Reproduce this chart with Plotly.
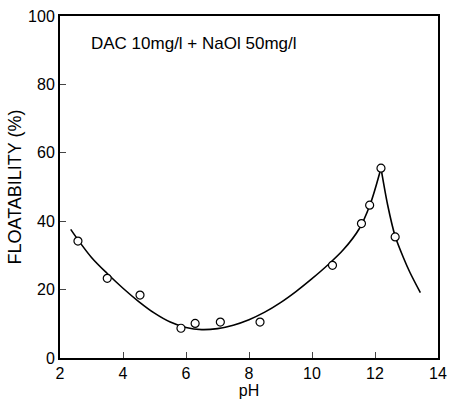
import plotly.graph_objects as go

# measured points
ph_pts = [2.57, 3.50, 4.54, 5.84, 6.29, 7.09, 8.35, 10.65, 11.57, 11.83, 12.19, 12.64]
flt_pts = [34.2, 23.3, 18.4, 8.7, 10.1, 10.5, 10.5, 27.1, 39.3, 44.7, 55.5, 35.4]

# fitted curve (left branch up to the peak, right branch after it)
curve_left_x = [2.34, 2.6, 3.0, 3.5, 4.0, 4.5, 5.0, 5.5, 6.0, 6.5, 7.0, 7.5, 8.0, 8.5, 9.0, 9.5, 10.0, 10.5, 11.0, 11.5, 11.83, 12.19]
curve_left_y = [37.6, 34.2, 29.4, 24.7, 20.4, 16.5, 13.1, 10.5, 8.9, 8.3, 8.6, 9.6, 11.2, 13.4, 16.2, 19.5, 23.2, 27.2, 31.7, 37.8, 44.5, 55.5]
curve_right_x = [12.19, 12.4, 12.64, 12.9, 13.11, 13.44]
curve_right_y = [55.5, 44.8, 35.6, 29.4, 25.0, 19.1]

x_ticks = [2, 4, 6, 8, 10, 12, 14]
y_ticks = [0, 20, 40, 60, 80, 100]

FONT = "Liberation Sans, Arial, sans-serif"

fig = go.Figure()
fig.add_trace(go.Scatter(x=curve_left_x, y=curve_left_y, mode="lines",
                         line=dict(color="black", width=1.6, shape="spline", smoothing=1.0),
                         hoverinfo="skip", showlegend=False))
fig.add_trace(go.Scatter(x=curve_right_x, y=curve_right_y, mode="lines",
                         line=dict(color="black", width=1.6, shape="spline", smoothing=0.8),
                         hoverinfo="skip", showlegend=False))
fig.add_trace(go.Scatter(x=ph_pts, y=flt_pts, mode="markers",
                         marker=dict(symbol="circle", size=8, color="white",
                                     line=dict(color="black", width=1.2)),
                         showlegend=False))

fig.add_annotation(x=2.93, y=92, xref="x", yref="y", text="DAC 10mg/l + NaOl 50mg/l",
                   showarrow=False, xanchor="left", yanchor="middle",
                   font=dict(family=FONT, size=17, color="black"))

fig.update_layout(
    width=455, height=405,
    margin=dict(l=60, r=8, t=13, b=38),
    paper_bgcolor="white", plot_bgcolor="white",
    font=dict(family=FONT, color="black", size=16),
    showlegend=False,
)
fig.update_xaxes(range=[2, 14], tickvals=x_ticks, ticks="inside", ticklen=6,
                 showline=True, linecolor="black", linewidth=2, mirror=True,
                 showgrid=False, zeroline=False,
                 title=dict(text="pH", font=dict(size=16), standoff=4),
                 tickfont=dict(size=16))
fig.update_yaxes(range=[0, 100], tickvals=y_ticks, ticks="inside", ticklen=6,
                 showline=True, linecolor="black", linewidth=2, mirror=True,
                 showgrid=False, zeroline=False,
                 title=dict(text="FLOATABILITY (%)", font=dict(size=18), standoff=2),
                 tickfont=dict(size=16))

fig.write_html("out.html")
